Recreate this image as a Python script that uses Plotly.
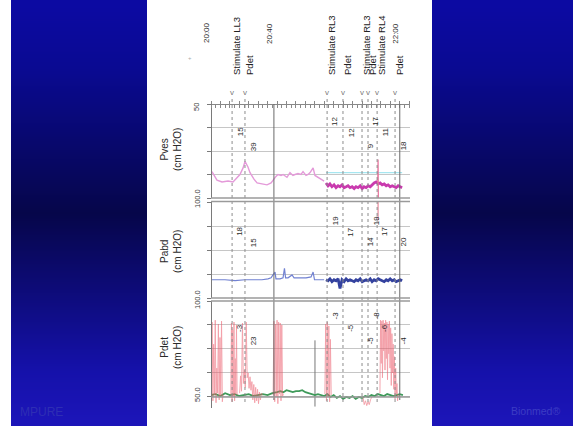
import plotly.graph_objects as go

# ---------------- data ----------------
# time in minutes after 20:00
pves_light_t = [0.6, 3.8, 7.0, 10.8, 14.0, 16.5, 18.4, 20.4, 21.6, 23.5, 24.8, 27.3, 29.3, 32.4, 35.6, 38.2,
                39.4, 41.3, 42.6, 44.5, 45.8, 47.1, 48.3, 50.2, 52.1, 53.4, 55.3, 57.2, 58.5, 60.4, 61.7, 63.0,
                64.9, 66.1, 68.0, 70.0, 71.9]
pves_light_v = [28, 19, 17, 18, 17, 21, 25, 32, 39, 33, 27, 20, 16, 15, 14, 16,
                19, 23, 25, 24, 25, 23, 22, 27, 24, 25, 26, 25, 28, 24, 25, 27,
                32, 24, 22, 20, 18]
pves_dark_t = [73.1, 74.4, 75.6, 76.9, 78.2, 79.5, 80.8, 82.0, 83.3, 84.6, 85.9, 87.1, 88.4, 89.7, 91.0, 92.2,
               93.5, 94.8, 96.1, 97.3, 98.6, 99.9, 101.2, 102.4, 103.7, 105.0, 106.3, 107.5, 108.8, 110.1,
               111.4, 112.6, 113.9, 115.2, 116.5, 117.7, 119.0, 120.3, 121.5]
pves_dark_v = [16, 13, 15, 12, 14, 11, 13, 12, 14, 11, 12, 13, 11, 12, 10, 12,
               11, 13, 10, 12, 11, 13, 12, 14, 16, 17, 15, 16, 14, 15,
               13, 14, 12, 13, 12, 11, 13, 12, 11]
pves_ref_t = [73.1, 121.5]
pves_ref_v = [27, 27]
cough_t = [106.0, 106.2, 106.4]
cough_pves_v = [15, 41, -6]
cough_pabd_t = [106.2, 106.2]
cough_pabd_v = [100, 81]

pabd_light_t = [0.6, 8.9, 15.3, 21.6, 28.0, 32.4, 36.2, 38.2, 39.4, 40.7, 41.3, 43.9, 45.8, 46.7, 47.4, 49.0,
                51.5, 52.8, 56.6, 60.4, 63.6, 64.9, 65.8, 68.0, 71.9]
pabd_light_v = [19, 19, 18, 19, 19, 19, 20, 21, 24, 27, 20, 20, 21, 31, 21, 21,
                24, 21, 21, 21, 22, 27, 19, 19, 19]
pabd_dark_t = pves_dark_t
pabd_dark_v = [19, 18, 20, 17, 19, 18, 20, 10, 19, 17, 20, 18, 19, 18, 17, 19,
               18, 20, 17, 18, 19, 18, 20, 17, 19, 18, 20, 19, 18, 17,
               19, 18, 20, 18, 19, 17, 18, 19, 18]

pdet_red_t = [0.2, 0.7, 1.2, 1.7, 2.2, 2.7, 3.2, 3.7, 4.2, 4.7, 5.2, 5.7, 6.2, 6.7, 7.2, 7.6, None,
              12.6, 13.0, 13.4, 13.8, 14.2, 14.6, 15.0, 15.4, 15.8, 16.2, 16.6, None,
              18.2, 18.8, 19.4, 20.0, 20.6, 21.2, 21.8, 22.4, 23.0, 23.6, 24.2, 24.8, 25.4, 26.0, 26.6, 27.2,
              27.8, 28.4, 29.0, 29.6, 30.2, 30.8, 31.4, 32.0, 32.8, None,
              39.5, 40.0, 40.5, 41.0, 41.5, 42.0, 42.5, 43.0, 43.5, 44.0, 44.5, 45.0, 45.5, 46.0, None,
              72.4, 72.9, 73.4, 73.9, 74.4, 74.9, 75.4, 75.9, 76.4, None,
              96.6, 97.4, 98.2, 99.0, 99.8, 100.6, 101.4, 102.2, None,
              107.4, 107.8, 108.2, 108.6, 109.0, 109.4, 109.8, 110.2, 110.6, 111.0, 111.4, 111.8, 112.2, 112.6,
              113.0, 113.4, 113.8, 114.2, 114.6, 115.0, 115.4, 115.8, 116.2, 116.6, 117.0, 117.4, 117.8, 118.2,
              118.6, 119.0]
pdet_red_v = [3, 78, -4, 55, 2, 80, -6, 30, 4, 76, -3, 62, 1, 79, -5, 2, None,
              2, 77, -5, 70, 1, 78, -4, 40, 3, 75, 2, None,
              4, 22, 6, 77, 14, 28, 10, 78, 20, 25, 9, 21, 7, 16, -3, 13,
              -6, 10, -4, 8, -7, 5, -3, 4, 2, None,
              2, 79, -5, 76, 0, 80, -7, 78, 3, 77, -4, 75, 1, 3, None,
              3, 76, -4, 78, 0, 74, -5, 60, 2, None,
              0, -8, -4, -9, -5, -8, -3, 0, None,
              4, 80, 35, 79, 20, 80, 48, 77, 28, 80, 40, 78, 18, 76,
              45, 79, 30, 72, 12, 66, 25, 55, 8, 42, -2, 30, 3, 14,
              -4, 2]
pdet_green_t = [0, 3, 6, 9, 12, 15, 18, 21, 24, 27, 30, 33, 36, 39, 42, 44, 46, 48, 50, 52, 54, 56, 58, 60,
                62, 64, 66, 68, 70, 72, 74, 76, 78, 80, 82, 84, 86, 88, 90, 92, 94, 96, 98, 100, 102, 104,
                106, 108, 110, 112, 114, 116, 118, 120, 122]
pdet_green_v = [2, 3, 1, 4, 2, 3, 1, 2, 3, 1, 2, 3, 2, 4, 5, 6, 5, 7, 6, 5, 6, 6, 7, 5,
                4, 3, 2, 3, 2, 1, 3, 0, 2, -1, 1, -2, 0, -1, 1, -2, 0, -1, 1, 0, 2, 1,
                3, 2, 1, 3, 2, 1, 2, 3, 2]
pdet_mark_t = [66.1, 66.1]
pdet_mark_v = [59, -10]

events_t = [13.4, 21.6, 73.8, 83.9, 96.0, 99.8, 105.6, 117.0]
event_labels = ["Stimulate LL3", "Pdet", "Stimulate RL3", "Pdet", "Stimulate RL3", "Pdet", "Stimulate RL4", "Pdet"]
time_marks = [0, 40, 120]
time_labels = ["20:00", "20:40", "22:00"]
pves_vals = ["15", "39", "12", "12", "9", "17", "11", "18"]
pabd_vals = ["18", "15", "19", "17", "14", "19", "17", "20"]
pdet_vals = ["-3", "23", "-3", "-5", "-5", "-8", "-6", "-4"]
channel_names = ["Pves", "Pabd", "Pdet"]
scale_labels = ["50", "100.0", "100.0", "50.0"]

# ---------------- layout helpers ----------------
W, H = 579, 426
def PX(p): return p / W
def PY(p): return 1 - p / H

XD = [PX(211), PX(410)]
TR = [0, 126.5]
DOM = {"y": [PY(198), PY(104)], "y2": [PY(298), PY(202)], "y3": [PY(408), PY(301)]}
RNG = {"y": [0, 100], "y2": [0, 100], "y3": [-11.5, 100]}

fig = go.Figure()

# side gradient panels
nz = 40
zcol = [[i, i] for i in range(nz)]
grad = [[0, "#1c15b8"], [0.12, "#1511aa"], [0.5, "#06064a"], [0.85, "#0a0a92"], [1, "#0c0aa2"]]
for xa, ya in (("x2", "y4"), ("x3", "y5")):
    fig.add_trace(go.Heatmap(z=zcol, xaxis=xa, yaxis=ya, colorscale=grad, showscale=False,
                             zsmooth="best", hoverinfo="skip"))

def line(t, v, ya, color, width, opacity=1.0):
    fig.add_trace(go.Scatter(x=t, y=v, xaxis="x", yaxis=ya, mode="lines",
                             line=dict(color=color, width=width), opacity=opacity,
                             hoverinfo="skip", connectgaps=False))

line(pves_ref_t, pves_ref_v, "y", "#a6e6f0", 1.2)
line(pves_light_t, pves_light_v, "y", "#e49ad9", 1.4)
line(pves_dark_t, pves_dark_v, "y", "#c93aae", 2.8)
line(cough_t, cough_pves_v, "y", "#e8709a", 1.2)
line(cough_pabd_t, cough_pabd_v, "y2", "#e8889a", 1.2)
line(pabd_light_t, pabd_light_v, "y2", "#7282d2", 1.2)
line(pabd_dark_t, pabd_dark_v, "y2", "#34429f", 2.8)
line(pdet_mark_t, pdet_mark_v, "y3", "#777777", 1)
line(pdet_green_t, pdet_green_v, "y3", "#3f9a5a", 1.8)
line(pdet_red_t, pdet_red_v, "y3", "#ec5c6c", 0.9, 0.6)

shapes = []
# event lines
for t in events_t:
    shapes.append(dict(type="line", xref="x", yref="paper", x0=t, x1=t, y0=PY(402), y1=PY(96),
                       line=dict(color="#8c8c8c", width=1, dash="dot")))
for t in time_marks[1:]:
    shapes.append(dict(type="line", xref="x", yref="paper", x0=t, x1=t, y0=PY(400), y1=PY(104),
                       line=dict(color="#6a6a6a", width=1)))
# panel borders
for p in (198, 201.5, 298, 301, 397):
    shapes.append(dict(type="line", xref="paper", yref="paper", x0=XD[0], x1=XD[1], y0=PY(p), y1=PY(p),
                       line=dict(color="#9a9a9a", width=1.6)))

ann = []
F = "Liberation Sans, Arial, sans-serif"
def A(**k):
    d = dict(showarrow=False, textangle=-90, xanchor="center", yanchor="middle",
             font=dict(family=F, size=8, color="#2a2a2a"))
    d.update(k)
    ann.append(d)

for t, s in zip(events_t, event_labels):
    A(x=t, xref="x", xshift=4, y=PY(77), yref="paper", yanchor="bottom", text=s,
      font=dict(family=F, size=9.5, color="#222222"))
    A(x=t, xref="x", y=PY(92), yref="paper", text="v", textangle=0,
      font=dict(family=F, size=8, color="#7a7a7a"))
for t, s in zip(time_marks, time_labels):
    A(x=t, xref="x", xshift=-5, y=PY(33), yref="paper", text=s, font=dict(family=F, size=8, color="#2a2a2a"))
A(x=PX(190), xref="paper", y=PY(58), yref="paper", text="+", textangle=0,
  font=dict(family=F, size=6, color="#aaaaaa"))

levels = {"y": [81, 70, 55], "y2": [80, 69, 58], "y3": [85, 72, 59]}
order = [1, 2, 0, 1, 2, 0, 1, 2]
for ya, vals in (("y", pves_vals), ("y2", pabd_vals), ("y3", pdet_vals)):
    for i, (t, s) in enumerate(zip(events_t, vals)):
        A(x=t, xref="x", xshift=8, y=levels[ya][order[i]], yref=ya, text=s,
          font=dict(family=F, size=8, color="#2a2a2a"))

for name, cy in zip(channel_names, (150, 252, 348)):
    A(x=PX(171), xref="paper", y=PY(cy), yref="paper",
      text=name + "<br>(cm H2O)", font=dict(family=F, size=10, color="#2a2a2a"))
for s, cy in zip(scale_labels, (107, 199, 300, 395)):
    A(x=PX(197), xref="paper", y=PY(cy), yref="paper", text=s, font=dict(family=F, size=7.5, color="#3a3a3a"))

ann.append(dict(x=PX(41), y=PY(412), xref="paper", yref="paper", text="MPURE", showarrow=False,
                xanchor="center", yanchor="middle", font=dict(family=F, size=12, color="#2e2eb4")))
ann.append(dict(x=PX(535), y=PY(411), xref="paper", yref="paper", text="Bionmed®", showarrow=False,
                xanchor="center", yanchor="middle", font=dict(family=F, size=10.5, color="#3c3cc4")))

yax = dict(showline=True, linecolor="#7a7a7a", linewidth=1, ticks="outside", ticklen=4, tickcolor="#7a7a7a",
           showticklabels=False, showgrid=True, gridcolor="#c6c6c6", gridwidth=1, zeroline=False,
           tickvals=[0, 25, 50, 75, 100], fixedrange=True)

layout = dict(
    width=W, height=H, margin=dict(l=0, r=0, t=0, b=0), paper_bgcolor="white", plot_bgcolor="rgba(0,0,0,0)",
    showlegend=False, shapes=shapes, annotations=ann,
    xaxis=dict(domain=XD, range=TR, anchor="free", position=PY(104), side="top", showline=True,
               linecolor="#888888", ticks="outside", ticklen=3, tickcolor="#888888", dtick=6, tick0=0,
               minor=dict(ticks="inside", ticklen=3, dtick=3, tickcolor="#888888"),
               showticklabels=False, showgrid=False, zeroline=False),
    xaxis2=dict(domain=[PX(11), PX(147)], anchor="y4", visible=False, range=[-0.5, 1.5]),
    yaxis4=dict(domain=[0, 1], anchor="x2", visible=False, range=[-0.5, nz - 0.5]),
    xaxis3=dict(domain=[PX(432), PX(573)], anchor="y5", visible=False, range=[-0.5, 1.5]),
    yaxis5=dict(domain=[0, 1], anchor="x3", visible=False, range=[-0.5, nz - 0.5]),
)
for key, ya in (("yaxis", "y"), ("yaxis2", "y2"), ("yaxis3", "y3")):
    d = dict(yax)
    d.update(domain=DOM[ya], range=RNG[ya], anchor="free", position=XD[0])
    layout[key] = d
fig.update_layout(**layout)

fig.write_html("out.html", config={"displayModeBar": False},
               post_script="document.body.style.margin='0px';document.body.style.overflow='hidden';")
